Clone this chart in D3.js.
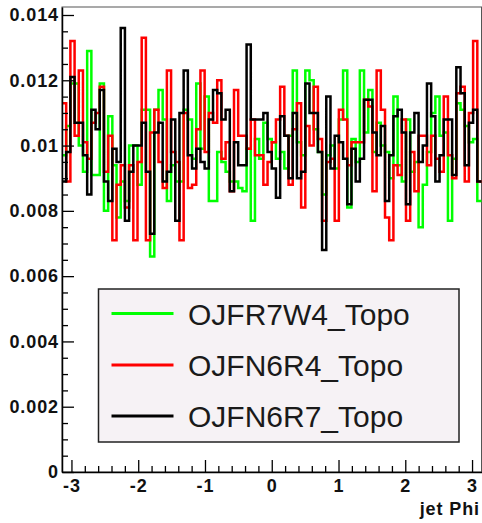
<!DOCTYPE html>
<html><head><meta charset="utf-8">
<script src="https://cdn.jsdelivr.net/npm/d3@7"></script>
<style>body{margin:0;background:#fff}svg{display:block}</style>
</head><body>
<svg id="c" width="482" height="523"></svg>
<script>
// ---- data ----
const xRange = [-Math.PI, Math.PI];
const nBins = 100;
const yMax = 0.014245;
const seriesNames = ["OJFR7W4_Topo", "OJFN6R4_Topo", "OJFN6R7_Topo"];
const seriesColors = ["#00ff00", "#ff0000", "#000000"];
const greenVals = [0.0097,0.0106,0.0119,0.0119,0.0100,0.0092,0.0129,0.0091,0.0091,0.0119,
0.0080,0.0109,0.0094,0.0078,0.0089,0.0083,0.0100,0.0100,0.0088,0.0111,
0.0111,0.0066,0.0111,0.0117,0.0108,0.0083,0.0094,0.0089,0.0089,0.0111,
0.0108,0.0096,0.0119,0.0099,0.0115,0.0083,0.0083,0.0098,0.0095,0.0092,
0.0089,0.0089,0.0087,0.0086,0.0099,0.0077,0.0102,0.0096,0.0107,0.0102,
0.0101,0.0096,0.0098,0.0093,0.0103,0.0123,0.0101,0.0097,0.0123,0.0120,
0.0105,0.0098,0.0085,0.0097,0.0100,0.0093,0.0108,0.0123,0.0081,0.0102,
0.0095,0.0123,0.0104,0.0117,0.0098,0.0107,0.0100,0.0098,0.0090,0.0115,
0.0094,0.0089,0.0108,0.0092,0.0095,0.0075,0.0088,0.0098,0.0110,0.0115,
0.0103,0.0104,0.0077,0.0096,0.0113,0.0111,0.0106,0.0101,0.0102,0.0083];
const redVals = [0.0113,0.0089,0.0132,0.0103,0.0123,0.0101,0.0096,0.0107,0.0110,0.0118,
0.0092,0.0103,0.0071,0.0088,0.0094,0.0081,0.0094,0.0071,0.0095,0.0133,
0.0071,0.0104,0.0111,0.0095,0.0087,0.0123,0.0098,0.0095,0.0071,0.0110,
0.0087,0.0088,0.0105,0.0123,0.0098,0.0110,0.0107,0.0120,0.0096,0.0101,
0.0086,0.0117,0.0103,0.0103,0.0099,0.0108,0.0097,0.0097,0.0088,0.0095,
0.0101,0.0108,0.0118,0.0103,0.0088,0.0105,0.0113,0.0081,0.0106,0.0100,
0.0118,0.0102,0.0077,0.0095,0.0096,0.0077,0.0111,0.0108,0.0094,0.0101,
0.0101,0.0101,0.0114,0.0112,0.0086,0.0123,0.0111,0.0078,0.0071,0.0094,
0.0091,0.0108,0.0077,0.0098,0.0086,0.0103,0.0103,0.0094,0.0103,0.0096,
0.0092,0.0115,0.0097,0.0090,0.0116,0.0118,0.0089,0.0110,0.0132,0.0089];
const blackVals = [0.0089,0.0098,0.0121,0.0107,0.0107,0.0097,0.0085,0.0111,0.0105,0.0117,
0.0089,0.0083,0.0099,0.0095,0.0136,0.0077,0.0092,0.0100,0.0100,0.0107,
0.0092,0.0073,0.0104,0.0107,0.0089,0.0092,0.0108,0.0077,0.0110,0.0123,
0.0097,0.0093,0.0099,0.0095,0.0093,0.0108,0.0117,0.0116,0.0108,0.0111,
0.0086,0.0101,0.0094,0.0094,0.0131,0.0108,0.0108,0.0108,0.0110,0.0098,
0.0093,0.0084,0.0109,0.0103,0.0090,0.0110,0.0090,0.0092,0.0119,0.0110,
0.0110,0.0098,0.0068,0.0115,0.0093,0.0103,0.0101,0.0096,0.0082,0.0099,
0.0089,0.0096,0.0114,0.0114,0.0104,0.0097,0.0106,0.0083,0.0097,0.0109,
0.0111,0.0104,0.0082,0.0104,0.0110,0.0095,0.0100,0.0119,0.0109,0.0089,
0.0097,0.0108,0.0108,0.0091,0.0124,0.0116,0.0094,0.0107,0.0111,0.0089];
const yTicks = [0, 0.002, 0.004, 0.006, 0.008, 0.01, 0.012, 0.014];
const yTickLabels = ["0", "0.002", "0.004", "0.006", "0.008", "0.01", "0.012", "0.014"];
const xTicks = [-3, -2, -1, 0, 1, 2, 3];
const xTitle = "jet Phi";

// ---- layout ----
const L = 62, R = 481.5, T = 7, B = 472;
const svg = d3.select("#c");
const x = d3.scaleLinear().domain(xRange).range([L, R]);
const y = d3.scaleLinear().domain([0, yMax]).range([B, T]);
const font = "'Liberation Sans', Arial, Helvetica, sans-serif";

svg.append("rect").attr("width", 482).attr("height", 523).attr("fill", "#ffffff");

// frame
svg.append("rect").attr("x", L).attr("y", T).attr("width", R - L).attr("height", B - T)
  .attr("fill", "none").attr("stroke", "#555").attr("stroke-width", 1);

// histograms
const binW = (xRange[1] - xRange[0]) / nBins;
function stepPoints(vals) {
  const pts = [];
  vals.forEach((v, i) => {
    const x0 = xRange[0] + i * binW;
    pts.push([x0, v], [x0 + binW, v]);
  });
  return pts;
}
const line = d3.line().x(d => x(d[0])).y(d => y(d[1]));
const allSeries = [greenVals, redVals, blackVals];
allSeries.forEach((vals, k) => {
  svg.append("path").attr("d", line(stepPoints(vals)))
    .attr("fill", "none").attr("stroke", seriesColors[k])
    .attr("stroke-width", 2.5).attr("stroke-linejoin", "miter");
});

// y axis
const yMinor = d3.range(0, 0.01401, 0.0005).filter(v => !yTicks.some(t => Math.abs(t - v) < 1e-7));
const yAxis = d3.axisLeft(y).tickValues(yTicks).tickFormat((d, i) => yTickLabels[i])
  .tickSizeInner(-12).tickSizeOuter(0).tickPadding(3);
const gy = svg.append("g").attr("transform", `translate(${L},0)`).call(yAxis);
gy.select(".domain").attr("stroke", "#000").attr("stroke-width", 1.5);
gy.selectAll(".tick line").attr("stroke", "#000").attr("stroke-width", 1.3);
gy.selectAll("text").attr("font-family", font).attr("font-weight", "bold")
  .attr("font-size", 18).attr("letter-spacing", "0.9px").attr("fill", "#111");
svg.append("g").attr("transform", `translate(${L},0)`)
  .call(d3.axisLeft(y).tickValues(yMinor).tickFormat("").tickSizeInner(-6).tickSizeOuter(0))
  .call(g => g.select(".domain").remove())
  .selectAll(".tick line").attr("stroke", "#000").attr("stroke-width", 1.3);

// x axis
const xMinor = d3.range(-3.0, 3.01, 0.2).filter(v => !xTicks.some(t => Math.abs(t - v) < 1e-7));
const xAxis = d3.axisBottom(x).tickValues(xTicks).tickFormat(d3.format("d"))
  .tickSizeInner(-12).tickSizeOuter(0).tickPadding(7);
const gx = svg.append("g").attr("transform", `translate(0,${B})`).call(xAxis);
gx.select(".domain").attr("stroke", "#000").attr("stroke-width", 1.5);
gx.selectAll(".tick line").attr("stroke", "#000").attr("stroke-width", 1.3);
gx.selectAll("text").attr("font-family", font).attr("font-weight", "bold")
  .attr("font-size", 18).attr("letter-spacing", "0.9px").attr("fill", "#111")
  .text(d => d < 0 ? "-" + Math.abs(d) : d);
svg.append("g").attr("transform", `translate(0,${B})`)
  .call(d3.axisBottom(x).tickValues(xMinor).tickFormat("").tickSizeInner(-6).tickSizeOuter(0))
  .call(g => g.select(".domain").remove())
  .selectAll(".tick line").attr("stroke", "#000").attr("stroke-width", 1.3);

svg.append("text").attr("x", 480).attr("y", 515).attr("text-anchor", "end")
  .attr("font-family", font).attr("font-weight", "bold").attr("font-size", 18)
  .attr("letter-spacing", "0.9px").attr("fill", "#111").text(xTitle);

// legend
const lg = svg.append("g");
lg.append("rect").attr("x", 98.5).attr("y", 289).attr("width", 360.5).attr("height", 153)
  .attr("fill", "#f6f2f5").attr("stroke", "#222").attr("stroke-width", 1.5);
const rowY = [313.5, 365, 416];
seriesNames.forEach((name, k) => {
  lg.append("line").attr("x1", 111.5).attr("x2", 173.5).attr("y1", rowY[k]).attr("y2", rowY[k])
    .attr("stroke", seriesColors[k]).attr("stroke-width", 3);
  lg.append("text").attr("x", 188).attr("y", rowY[k] + 11)
    .attr("font-family", font).attr("font-size", 30).attr("fill", "#1a1a1a").text(name);
});
</script>
</body></html>
